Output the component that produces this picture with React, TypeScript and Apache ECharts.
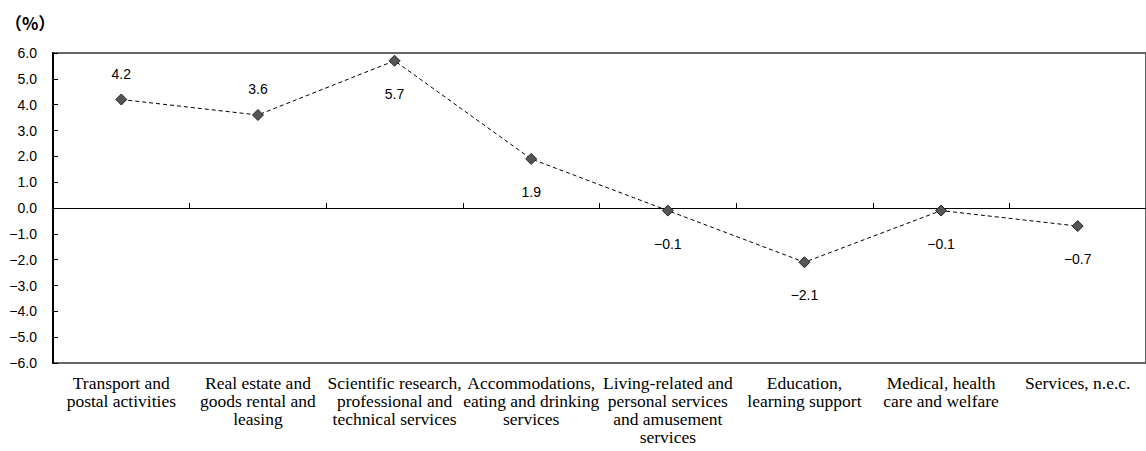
import React, { useEffect, useRef } from "react";
import * as echarts from "echarts";

const categories = [
  "Transport and\npostal activities",
  "Real estate and\ngoods rental and\nleasing",
  "Scientific research,\nprofessional and\ntechnical services",
  "Accommodations,\neating and drinking\nservices",
  "Living-related and\npersonal services\nand amusement\nservices",
  "Education,\nlearning support",
  "Medical, health\ncare and welfare",
  "Services, n.e.c.",
];
const values = [4.2, 3.6, 5.7, 1.9, -0.1, -2.1, -0.1, -0.7];
const labelAbove = [true, true, false, false, false, false, false, false];

const fmt = (v: number) => v.toFixed(1).replace("-", "\u2212");

export default function App() {
  const ref = useRef<HTMLDivElement>(null);
  useEffect(() => {
    if (!ref.current) return;
    const chart = echarts.init(ref.current, undefined, { renderer: "svg" });
    chart.setOption({
      animation: false,
      backgroundColor: "#fff",
      grid: {
        left: 53,
        top: 53,
        width: 1106,
        height: 310,
        show: true,
        borderColor: "#666",
        borderWidth: 2,
        backgroundColor: "transparent",
      },
      graphic: [
        {
          type: "text",
          left: 5,
          top: 14,
          style: {
            text: "（%）",
            font: "bold 17px 'Noto Sans CJK JP'",
            fill: "#000",
          },
        },
      ],
      xAxis: [
        {
          type: "category",
          data: categories,
          position: "bottom",
          axisLine: { show: false, onZero: false },
          axisTick: { show: false },
          splitLine: { show: false },
          axisLabel: {
            interval: 0,
            margin: 11,
            color: "#000",
            fontFamily: "'Liberation Serif', 'Times New Roman', serif",
            fontSize: 17.5,
            lineHeight: 18,
          },
        },
        {
          type: "category",
          data: categories,
          position: "top",
          axisLine: { show: true, onZero: true, onZeroAxisIndex: 0, lineStyle: { color: "#000", width: 1 } },
          axisTick: { show: true, inside: false, length: 5, lineStyle: { color: "#000", width: 1 } },
          axisLabel: { show: false },
          splitLine: { show: false },
        },
      ],
      yAxis: {
        type: "value",
        min: -6,
        max: 6,
        interval: 1,
        axisLine: { show: true, onZero: false, lineStyle: { color: "#000", width: 2 } },
        axisTick: { show: true, inside: true, length: 5, lineStyle: { color: "#000", width: 1 } },
        splitLine: { show: false },
        axisLabel: {
          formatter: (v: number) => fmt(v),
          color: "#000",
          fontFamily: "'Liberation Sans', Arial, sans-serif",
          fontSize: 14,
          margin: 16,
        },
      },
      series: [
        {
          type: "line",
          xAxisIndex: 0,
          data: values.map((v, i) => ({
            value: v,
            label: labelAbove[i]
              ? { position: "top", distance: 13 }
              : { position: "bottom", distance: 20 },
          })),
          symbol: "diamond",
          symbolSize: 11,
          itemStyle: { color: "#555", borderColor: "#222", borderWidth: 1 },
          lineStyle: { color: "#000", width: 1, type: [4, 3] },
          label: {
            show: true,
            formatter: (p: any) => fmt(p.value),
            color: "#000",
            fontFamily: "'Liberation Sans', Arial, sans-serif",
            fontSize: 14,
          },
        },
      ],
    });
    return () => chart.dispose();
  }, []);
  return (
    <div
      ref={ref}
      style={{ position: "fixed", left: 0, top: 0, width: 1146, height: 451 }}
    />
  );
}
